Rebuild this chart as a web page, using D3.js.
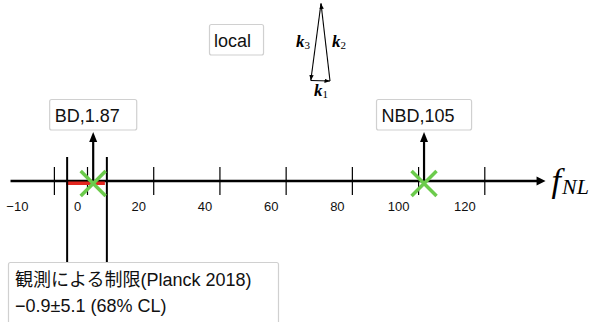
<!DOCTYPE html>
<html>
<head>
<meta charset="utf-8">
<script src="https://cdn.jsdelivr.net/npm/d3@7"></script>
<style>
  body { margin: 0; background: #fff; }
  svg { display: block; }
  .box { fill: #fff; stroke: #d0d0d0; stroke-width: 1.2; }
  .lbl { font-family: "Liberation Sans", Arial, "Noto Sans CJK JP", sans-serif; font-size: 18px; fill: #111; }
  .tick text { font-family: "Liberation Sans", Arial, sans-serif; font-size: 13px; fill: #111; }
  .math { font-family: "Liberation Serif", "DejaVu Serif", serif; font-style: italic; }
</style>
</head>
<body>
<svg id="chart" width="599" height="322"></svg>
<script>
/*    ========    DATA    =========    */

var TICKS = [-10, 0, 20, 40, 60, 80, 100, 120];

var MARKER_NAMES = ["BD", "NBD"];
var MARKER_VALUES = [1.87, 105];
// where the figure actually places the two markers on its axis
var MARKER_DRAWN = [1.87, 101.8];

var CONSTRAINT_CENTER = -0.9;
var CONSTRAINT_ERR = 5.1;
// edges of the constraint as drawn in the figure
var CONSTRAINT_DRAWN = [-6.0, 6.0];

var SHAPE_LABEL = "local";
var CONSTRAINT_TEXT = ["観測による制限(Planck 2018)",
    "\u2212" + Math.abs(CONSTRAINT_CENTER) + "\u00b1" + CONSTRAINT_ERR + " (68% CL)"];

/*    ========    SETTINGS    =========    */

var svg = d3.select("#chart");
var AXIS_Y = 181;
var GREEN = "#6ccb4c";
var RED = "#e3261f";

var x = d3.scaleLinear().domain([0, 120]).range([87, 484.3]);
var AXIS_EXTENT = [-23.1, 138.5];

/*    ========    AXIS    =========    */

svg.append("line")
    .attr("x1", x(AXIS_EXTENT[0])).attr("x2", x(AXIS_EXTENT[1]) - 6)
    .attr("y1", AXIS_Y).attr("y2", AXIS_Y)
    .attr("stroke", "#000").attr("stroke-width", 2.6);

var tipX = x(AXIS_EXTENT[1]);
svg.append("path")
    .attr("d", "M" + tipX + "," + AXIS_Y + "L" + (tipX - 9) + "," + (AXIS_Y - 4.5) +
        "L" + (tipX - 9) + "," + (AXIS_Y + 4.5) + "Z")
    .attr("fill", "#000");

var axis = d3.axisBottom(x)
    .tickValues(TICKS)
    .tickSize(28)
    .tickPadding(7);

var gAxis = svg.append("g")
    .attr("transform", "translate(0," + (AXIS_Y - 14) + ")")
    .call(axis);
gAxis.select(".domain").remove();
gAxis.selectAll(".tick line").attr("stroke", "#000").attr("stroke-width", 1.2);
gAxis.selectAll(".tick text")
    .attr("dx", function(d) { return d < 0 ? -37 : d === 0 ? -10 : d >= 100 ? -20 : -15; });

// f_NL label
var fl = svg.append("text").attr("class", "math")
    .attr("x", tipX + 6).attr("y", AXIS_Y + 11);
fl.append("tspan").attr("font-size", 34).text("f");
fl.append("tspan").attr("font-size", 22).attr("dx", 1).attr("dy", 2).text("NL");

/*    ========    CONSTRAINT    =========    */

svg.append("rect")
    .attr("x", x(CONSTRAINT_DRAWN[0]) - 1)
    .attr("width", x(CONSTRAINT_DRAWN[1]) - x(CONSTRAINT_DRAWN[0]) - 1)
    .attr("y", AXIS_Y + 0.5).attr("height", 3.5)
    .attr("fill", RED);

svg.selectAll(".climit")
    .data(CONSTRAINT_DRAWN)
    .enter().append("line")
    .attr("class", "climit")
    .attr("x1", function(d) { return x(d); }).attr("x2", function(d) { return x(d); })
    .attr("y1", 157).attr("y2", 263)
    .attr("stroke", "#000").attr("stroke-width", 2);

var cbox = svg.append("g");
cbox.append("rect").attr("class", "box")
    .attr("x", 8.5).attr("y", 262.5).attr("width", 270).attr("height", 62).attr("rx", 2);
cbox.selectAll("text")
    .data(CONSTRAINT_TEXT)
    .enter().append("text")
    .attr("class", "lbl")
    .attr("x", 15)
    .attr("y", function(d, i) { return 286 + i * 26; })
    .text(function(d) { return d; });

/*    ========    MARKERS    =========    */

var markers = MARKER_NAMES.map(function(n, i) {
    return { name: n, value: MARKER_VALUES[i], pos: MARKER_DRAWN[i] };
});

var gm = svg.selectAll(".marker")
    .data(markers)
    .enter().append("g")
    .attr("class", "marker")
    .attr("transform", function(d) { return "translate(" + x(d.pos) + ",0)"; });

gm.append("line")
    .attr("x1", 0).attr("x2", 0)
    .attr("y1", AXIS_Y).attr("y2", 140)
    .attr("stroke", "#000").attr("stroke-width", 2.2);
gm.append("path")
    .attr("d", "M0,132L-4,142L4,142Z")
    .attr("fill", "#000");

gm.each(function(d) {
    var g = d3.select(this);
    var box = g.append("rect").attr("class", "box");
    var t = g.append("text").attr("class", "lbl")
        .attr("y", 122)
        .text(d.name + "," + d.value);
    var w = t.node().getComputedTextLength() + 22;
    box.attr("x", -w / 2).attr("y", 99.5).attr("width", w).attr("height", 30.5).attr("rx", 2);
    t.attr("x", -w / 2 + 5);
});

gm.append("path")
    .attr("d", "M-12.5,-12.5L12.5,12.5M-12.5,12.5L12.5,-12.5")
    .attr("transform", "translate(0," + (AXIS_Y + 2.5) + ")")
    .attr("stroke", GREEN).attr("stroke-width", 3.5).attr("fill", "none");

/*    ========    SHAPE INSET    =========    */

var gl = svg.append("g");
var lbox = gl.append("rect").attr("class", "box");
var lt = gl.append("text").attr("class", "lbl")
    .attr("x", 214).attr("y", 47).text(SHAPE_LABEL);
var lw = lt.node().getComputedTextLength();
lbox.attr("x", 209.5).attr("y", 24.5).attr("width", lw + 17).attr("height", 30.5).attr("rx", 2);

var defs = svg.append("defs");
defs.append("marker")
    .attr("id", "ah").attr("viewBox", "0 0 10 10")
    .attr("refX", 10).attr("refY", 5)
    .attr("markerWidth", 5).attr("markerHeight", 5)
    .attr("orient", "auto")
    .append("path").attr("d", "M0,1L10,5L0,9Z").attr("fill", "#000");

var tri = { top: [321, 3.5], bl: [310.8, 80.5], br: [330, 81] };
var edges = [[tri.bl, tri.br], [tri.br, tri.top], [tri.top, tri.bl]];
svg.selectAll(".kvec")
    .data(edges)
    .enter().append("line")
    .attr("class", "kvec")
    .attr("x1", function(d) { return d[0][0]; }).attr("y1", function(d) { return d[0][1]; })
    .attr("x2", function(d) { return d[1][0]; }).attr("y2", function(d) { return d[1][1]; })
    .attr("stroke", "#000").attr("stroke-width", 1.1)
    .attr("marker-end", "url(#ah)");

var klabels = [{ s: "1", x: 314, y: 96 }, { s: "2", x: 332, y: 47 }, { s: "3", x: 296, y: 47 }];
klabels.forEach(function(k) {
    var t = svg.append("text").attr("class", "math")
        .attr("x", k.x).attr("y", k.y).attr("font-weight", "bold");
    t.append("tspan").attr("font-size", 17).text("k");
    t.append("tspan").attr("font-size", 11).attr("dy", 2).attr("font-weight", "normal")
        .attr("font-style", "normal").text(k.s);
});
</script>
</body>
</html>
